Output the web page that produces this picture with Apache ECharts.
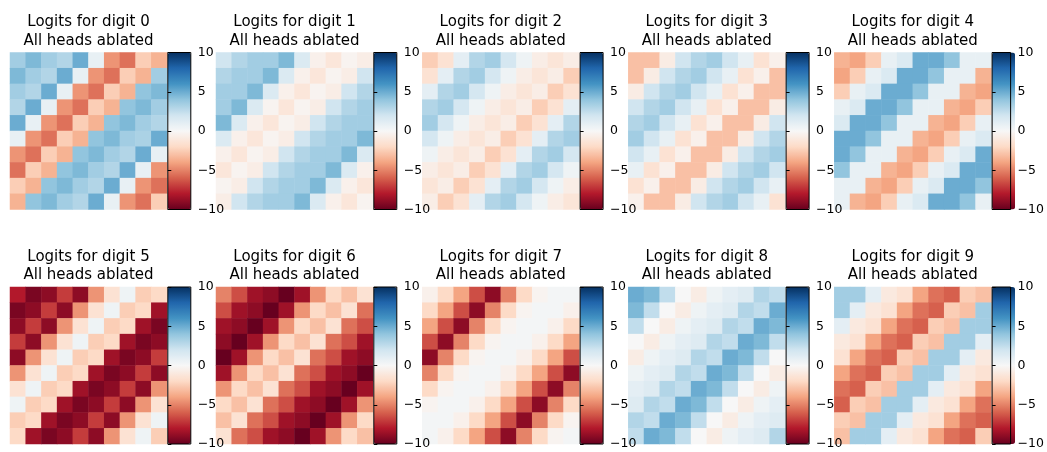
<!DOCTYPE html>
<html>
<head>
<meta charset="utf-8">
<script src="https://cdn.jsdelivr.net/npm/echarts@6/dist/echarts.min.js"></script>
<style>
  html, body { margin: 0; padding: 0; background: #fff; }
  #chart { width: 1047px; height: 452px; }
</style>
</head>
<body>
<div id="chart"></div>
<script>
// Logit grids (10 rows x 10 columns) for each output digit, all heads ablated.
const digit0 = [
  [3.5, 4.5, 3.5, 3.0, 5.0, 0.8, -4.5, -5.5, -2.5, -3.5],
  [4.5, 3.5, 3.0, 5.0, 0.8, -4.5, -5.5, -2.5, -3.5, 3.5],
  [3.5, 3.0, 5.0, 0.8, -4.5, -5.5, -2.5, -3.5, 4.0, 4.5],
  [3.0, 5.0, 0.8, -4.5, -5.5, -2.5, -3.5, 4.0, 4.5, 3.5],
  [5.0, 0.8, -4.5, -5.5, -2.5, -3.5, 4.0, 4.5, 3.5, 3.0],
  [0.8, -4.5, -5.5, -2.5, -3.5, 4.0, 4.5, 3.5, 3.2, 5.0],
  [-4.5, -5.5, -2.5, -3.5, 4.0, 4.5, 3.5, 3.0, 5.0, 0.8],
  [-5.5, -2.5, -3.5, 4.0, 4.5, 3.5, 3.0, 5.0, 0.8, -4.5],
  [-2.5, -3.5, 4.0, 4.5, 3.5, 3.0, 5.0, 0.8, -4.5, -5.5],
  [-3.5, 4.0, 4.5, 3.5, 3.0, 5.0, 0.8, -4.5, -5.5, -2.5]
];
const digit1 = [
  [2.0, 3.0, 3.5, 3.5, 4.5, 1.5, -0.5, -1.2, -0.3, -0.7],
  [3.0, 3.5, 3.5, 4.5, 1.5, -0.5, -1.2, -0.3, -0.7, 2.0],
  [3.5, 3.5, 4.5, 1.5, -0.5, -1.2, -0.3, -0.7, 2.0, 3.0],
  [3.5, 4.5, 1.5, -0.3, -1.2, -0.3, -0.7, 2.0, 3.0, 3.5],
  [4.5, 1.5, -0.5, -1.2, -0.3, -0.7, 2.0, 3.0, 3.5, 3.5],
  [1.5, -0.5, -1.2, -0.3, -0.7, 2.0, 3.0, 3.5, 3.5, 4.5],
  [-0.5, -1.2, -0.3, -0.7, 2.0, 3.0, 3.5, 3.5, 4.5, 1.5],
  [-1.2, -0.3, -0.7, 2.0, 3.0, 3.5, 3.5, 4.5, 1.5, -0.5],
  [-0.3, -0.7, 2.0, 3.0, 3.5, 3.5, 4.5, 1.5, -0.5, -1.2],
  [-0.7, 2.0, 3.0, 3.5, 3.5, 4.5, 1.5, -0.5, -1.2, -0.3]
];
const digit2 = [
  [-2.5, -1.5, 1.0, 3.0, 3.5, 1.8, 0.5, -0.7, -1.3, -0.7],
  [-1.5, 1.0, 3.0, 3.5, 1.8, 0.5, -0.7, -1.3, -0.7, -2.5],
  [1.0, 3.0, 3.5, 1.8, 0.5, -0.7, -1.3, -0.7, -2.5, -1.5],
  [3.0, 3.5, 1.8, 0.5, -0.7, -1.3, -0.7, -2.5, -1.5, 1.0],
  [3.5, 1.8, 0.5, -0.7, -1.3, -0.7, -2.5, -1.5, 1.0, 3.0],
  [1.8, 0.5, -0.7, -1.3, -0.7, -2.5, -1.5, 1.0, 3.0, 3.5],
  [0.5, -0.7, -1.3, -0.7, -2.5, -1.5, 1.0, 3.0, 3.5, 1.8],
  [-0.7, -1.3, -0.7, -2.5, -1.5, 1.0, 3.0, 3.5, 1.8, 0.5],
  [-1.3, -0.7, -2.5, -1.5, 1.0, 3.0, 3.5, 1.8, 0.5, -0.7],
  [-0.7, -2.5, -1.5, 1.0, 3.0, 3.5, 1.8, 0.5, -0.7, -1.3]
];
const digit3 = [
  [-3.0, -3.0, -0.8, 2.0, 3.0, 3.5, 2.0, 0.8, -1.5, -0.5],
  [-3.0, -0.8, 2.0, 3.0, 3.5, 2.0, 0.8, -1.5, -0.5, -3.0],
  [-0.8, 2.0, 3.0, 3.5, 2.0, 0.8, -1.5, -0.5, -3.0, -3.0],
  [2.0, 3.0, 3.5, 2.0, 0.8, -1.5, -0.5, -3.0, -3.0, -0.8],
  [3.0, 3.5, 2.0, 0.8, -1.5, -0.5, -3.0, -3.0, -0.8, 2.0],
  [3.5, 2.0, 0.8, -1.5, -0.5, -3.0, -3.0, -0.8, 2.0, 3.0],
  [2.0, 0.8, -1.5, -0.5, -3.0, -3.0, -0.8, 2.0, 3.0, 3.5],
  [0.8, -1.5, -0.5, -3.0, -3.0, -0.8, 2.0, 3.0, 3.5, 2.0],
  [-1.5, -0.5, -3.0, -3.0, -0.8, 2.0, 3.0, 3.5, 2.0, 0.8],
  [-0.5, -3.0, -3.0, -0.8, 2.0, 3.0, 3.5, 2.0, 0.8, -1.5]
];
const digit4 = [
  [-3.5, -4.0, -2.5, 0.8, 1.5, 5.0, 5.0, 4.0, 0.8, 0.8],
  [-4.0, -2.5, 0.8, 1.5, 5.0, 5.0, 4.0, 0.8, 0.8, -3.5],
  [-2.5, 0.8, 1.5, 5.0, 5.0, 4.0, 0.8, 0.8, -3.5, -4.0],
  [0.8, 1.5, 5.0, 5.0, 4.0, 0.8, 0.8, -3.5, -4.0, -2.5],
  [1.5, 5.0, 5.0, 4.0, 0.8, 0.8, -3.5, -4.0, -2.5, 0.8],
  [5.0, 5.0, 4.0, 0.8, 0.8, -3.5, -4.0, -2.5, 0.8, 1.5],
  [5.0, 4.0, 0.8, 0.8, -3.5, -4.0, -2.5, 0.8, 1.5, 5.0],
  [4.0, 0.8, 0.8, -3.5, -4.0, -2.5, 0.8, 1.5, 5.0, 5.0],
  [0.8, 0.8, -3.5, -4.0, -2.5, 0.8, 1.5, 5.0, 5.0, 4.0],
  [0.8, -3.5, -4.0, -2.5, 0.8, 1.5, 5.0, 5.0, 4.0, 0.8]
];
const digit5 = [
  [-8.0, -9.5, -9.0, -7.0, -9.0, -4.5, -1.5, 0.5, -2.5, -2.0],
  [-9.5, -9.0, -7.0, -9.0, -4.5, -1.5, 0.5, -2.5, -2.0, -8.5],
  [-9.0, -7.0, -9.0, -4.5, -1.5, 0.5, -2.5, -2.0, -8.5, -9.5],
  [-7.0, -9.0, -4.5, -1.5, 0.5, -2.5, -2.0, -8.5, -9.5, -9.0],
  [-9.0, -4.5, -1.5, 0.5, -2.5, -2.0, -8.5, -9.5, -9.0, -7.0],
  [-4.5, -1.5, 0.5, -2.5, -2.0, -8.5, -9.5, -9.0, -7.0, -9.0],
  [-1.5, 0.5, -2.5, -2.0, -8.5, -9.5, -9.0, -7.0, -9.0, -4.5],
  [0.5, -2.5, -2.0, -8.5, -9.5, -9.0, -7.0, -9.0, -4.5, -1.5],
  [-2.5, -2.0, -8.5, -9.5, -9.0, -7.0, -9.0, -4.5, -1.5, 0.5],
  [-2.0, -8.5, -9.5, -9.0, -7.0, -9.0, -4.5, -1.5, 0.5, -2.5]
];
const digit6 = [
  [-5.0, -6.5, -8.5, -9.0, -10.0, -8.5, -4.5, -2.0, -3.0, -1.5],
  [-6.5, -8.5, -9.0, -10.0, -8.5, -4.5, -2.0, -3.0, -1.5, -5.5],
  [-8.5, -9.0, -10.0, -8.5, -4.5, -2.0, -3.0, -1.5, -5.5, -6.5],
  [-9.0, -10.0, -8.5, -4.5, -2.0, -3.0, -1.5, -5.5, -6.5, -8.5],
  [-10.0, -8.5, -4.5, -2.0, -3.0, -1.5, -5.5, -6.5, -8.5, -9.0],
  [-8.5, -4.5, -2.0, -3.0, -1.5, -5.5, -6.5, -8.5, -9.0, -10.0],
  [-4.5, -2.0, -3.0, -1.5, -5.5, -6.5, -8.5, -9.0, -10.0, -8.5],
  [-2.0, -3.0, -1.5, -5.5, -6.5, -8.5, -9.0, -10.0, -8.5, -4.5],
  [-3.0, -1.5, -5.5, -6.5, -8.5, -9.0, -10.0, -8.5, -4.5, -2.0],
  [-1.5, -5.5, -6.5, -8.5, -9.0, -10.0, -8.5, -4.5, -2.0, -3.0]
];
const digit7 = [
  [-0.5, -2.0, -4.0, -6.5, -9.0, -5.0, -2.0, -0.3, 0.2, 0.2],
  [-2.0, -4.0, -6.5, -9.0, -5.0, -2.0, -0.3, 0.2, 0.2, -0.5],
  [-4.0, -6.5, -9.0, -5.0, -2.0, -0.3, 0.2, 0.2, -0.5, -2.0],
  [-6.5, -9.0, -5.0, -2.0, -0.3, 0.2, 0.2, -0.5, -2.0, -4.0],
  [-9.0, -5.0, -2.0, -0.3, 0.2, 0.2, -0.5, -2.0, -4.0, -6.5],
  [-5.0, -2.0, -0.3, 0.2, 0.2, -0.5, -2.0, -4.0, -6.5, -9.0],
  [-2.0, -0.3, 0.2, 0.2, -0.5, -2.0, -4.0, -6.5, -9.0, -5.0],
  [-0.3, 0.2, 0.2, -0.5, -2.0, -4.0, -6.5, -9.0, -5.0, -2.0],
  [0.2, 0.2, -0.5, -2.0, -4.0, -6.5, -9.0, -5.0, -2.0, -0.3],
  [0.2, -0.5, -2.0, -4.0, -6.5, -9.0, -5.0, -2.0, -0.3, 0.2]
];
const digit8 = [
  [5.0, 4.5, 2.5, 0.0, -0.8, 0.5, 1.0, 1.3, 3.0, 2.5],
  [4.5, 2.5, 0.0, -0.8, 0.5, 1.0, 1.3, 3.0, 2.5, 5.0],
  [2.5, 0.0, -0.8, 0.5, 1.0, 1.3, 3.0, 2.5, 5.0, 4.5],
  [0.0, -0.8, 0.5, 1.0, 1.3, 3.0, 2.5, 5.0, 4.5, 2.5],
  [-0.8, 0.5, 1.0, 1.3, 3.0, 2.5, 5.0, 4.5, 2.5, 0.0],
  [0.5, 1.0, 1.3, 3.0, 2.5, 5.0, 4.5, 2.5, 0.0, -0.8],
  [1.0, 1.3, 3.0, 2.5, 5.0, 4.5, 2.5, 0.0, -0.8, 0.5],
  [1.3, 3.0, 2.5, 5.0, 4.5, 2.5, 0.0, -0.8, 0.5, 1.0],
  [3.0, 2.5, 5.0, 4.5, 2.5, 0.0, -0.8, 0.5, 1.0, 1.3],
  [2.5, 5.0, 4.5, 2.5, 0.0, -0.8, 0.5, 1.0, 1.3, 3.0]
];
const digit9 = [
  [3.5, 3.5, 1.0, -1.0, -1.5, -4.0, -5.5, -6.0, -2.5, -3.0],
  [3.5, 1.0, -1.0, -1.5, -4.0, -5.5, -6.0, -2.5, -3.0, 3.5],
  [1.0, -1.0, -1.5, -4.0, -5.5, -6.0, -2.5, -3.0, 3.5, 3.5],
  [-1.0, -1.5, -4.0, -5.5, -6.0, -2.5, -3.0, 3.5, 3.5, 1.0],
  [-1.5, -4.0, -5.5, -6.0, -2.5, -3.0, 3.5, 3.5, 1.0, -1.0],
  [-4.0, -5.5, -6.0, -2.5, -3.0, 3.5, 3.5, 1.0, -1.0, -1.5],
  [-5.5, -6.0, -2.5, -3.0, 3.5, 3.5, 1.0, -1.0, -1.5, -4.0],
  [-6.0, -2.5, -3.0, 3.5, 3.5, 1.0, -1.0, -1.5, -4.0, -5.5],
  [-2.5, -3.0, 3.5, 3.5, 1.0, -1.0, -1.5, -4.0, -5.5, -6.0],
  [-3.0, 3.5, 3.5, 1.0, -1.0, -1.5, -4.0, -5.5, -6.0, -2.5]
];

const digitGrids = [digit0, digit1, digit2, digit3, digit4, digit5, digit6, digit7, digit8, digit9];
const digitLabels = ['0', '1', '2', '3', '4', '5', '6', '7', '8', '9'];
const rowCategories = ['0', '1', '2', '3', '4', '5', '6', '7', '8', '9'];
const colCategories = ['0', '1', '2', '3', '4', '5', '6', '7', '8', '9'];
const colorbarMin = -10;
const colorbarMax = 10;
const colorbarStep = 5;

// Diverging red-white-blue palette, low values red, high values blue.
const rdBu = ['#67001f', '#b2182b', '#d6604d', '#f4a582', '#fddbc7', '#f7f7f7',
              '#d1e5f0', '#92c5de', '#4393c3', '#2166ac', '#053061'];

// Panel layout (pixels)
const panelLefts = [10, 216, 422.3, 628.3, 834.3];
const panelTops = [52.5, 287];
const mapSize = 157;
const barGap = 0.8;
const barWidth = 23;
const font = 'DejaVu Sans';

const grids = [], xAxes = [], yAxes = [], series = [], visualMaps = [], titles = [];

digitGrids.forEach((values, k) => {
  const left = panelLefts[k % 5];
  const top = panelTops[Math.floor(k / 5)];

  // heatmap grid
  const gi = grids.length;
  grids.push({ left: left, top: top, width: mapSize, height: mapSize, containLabel: false });
  xAxes.push({ gridIndex: gi, type: 'category', data: colCategories, show: false });
  yAxes.push({ gridIndex: gi, type: 'category', data: rowCategories, inverse: true, show: false });

  const data = [];
  values.forEach((row, r) => row.forEach((v, c) => data.push([c, r, v])));
  const si = series.length;
  series.push({
    type: 'heatmap', xAxisIndex: gi, yAxisIndex: gi, data: data,
    itemStyle: { borderWidth: 0 },
    emphasis: { disabled: true },
    progressive: 0
  });

  // colour bar
  const barLeft = left + mapSize + barGap;
  visualMaps.push({
    type: 'continuous', seriesIndex: si, min: colorbarMin, max: colorbarMax,
    inRange: { color: rdBu },
    left: barLeft, top: top, itemWidth: barWidth, itemHeight: mapSize,
    padding: 0, calculable: false, hoverLink: false, text: null,
    showLabel: false, realtime: false
  });

  // colour bar frame and ticks
  const bi = grids.length;
  grids.push({
    left: barLeft, top: top, width: barWidth, height: mapSize,
    show: true, borderColor: '#000', borderWidth: 1, backgroundColor: 'transparent', z: 10
  });
  xAxes.push({ gridIndex: bi, type: 'value', show: false });
  yAxes.push({
    gridIndex: bi, type: 'value', min: colorbarMin, max: colorbarMax, interval: colorbarStep,
    position: 'right', z: 10,
    axisLine: { show: false },
    axisTick: { show: true, length: 3.5, inside: false, lineStyle: { color: '#000', width: 1 } },
    splitLine: { show: false },
    axisLabel: {
      margin: 7, color: '#000', fontSize: 12.5, fontFamily: font,
      showMinLabel: true, showMaxLabel: true,
      formatter: v => String(v).replace('-', '\u2212')
    }
  });

  titles.push({
    text: 'Logits for digit ' + digitLabels[k] + '\nAll heads ablated',
    left: left + mapSize / 2, top: top - 39.5, textAlign: 'center', padding: 0,
    textStyle: { fontFamily: font, fontSize: 15, fontWeight: 'normal', color: '#000', lineHeight: 18.5 }
  });
});

const chart = echarts.init(document.getElementById('chart'), null, { renderer: 'canvas' });
chart.setOption({
  animation: false,
  backgroundColor: '#fff',
  title: titles,
  grid: grids,
  xAxis: xAxes,
  yAxis: yAxes,
  visualMap: visualMaps,
  series: series
});
</script>
</body>
</html>
